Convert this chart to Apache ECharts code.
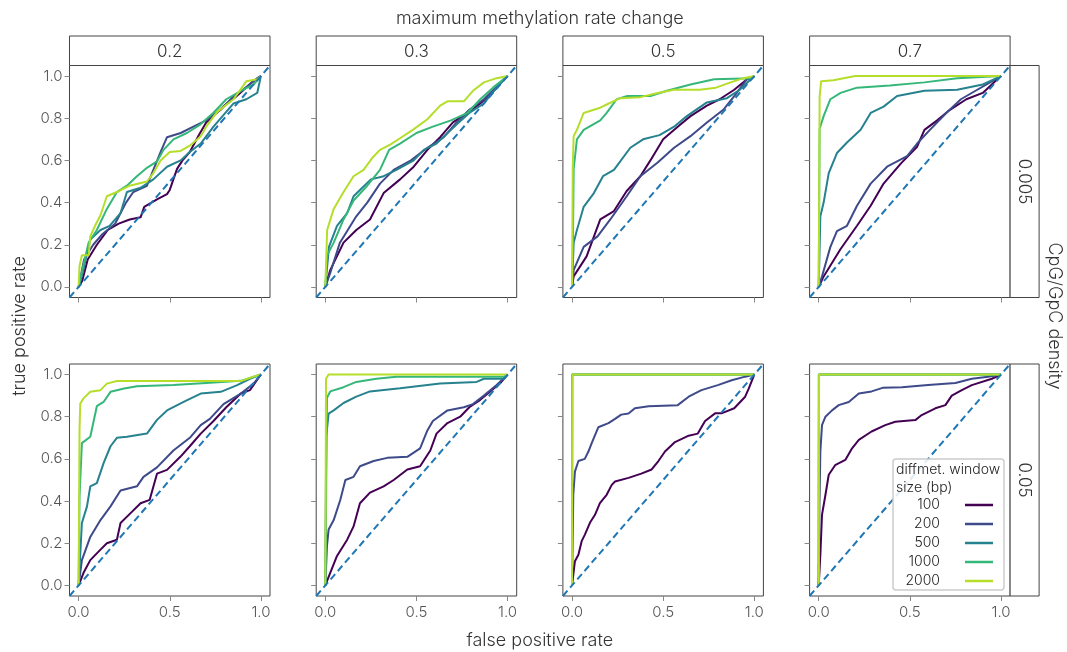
<!DOCTYPE html>
<html>
<head>
<meta charset="utf-8">
<script src="https://cdn.jsdelivr.net/npm/echarts@6/dist/echarts.min.js"></script>
<style>
  html, body { margin: 0; padding: 0; background: #fff; }
  #chart { width: 1067px; height: 652px; }
</style>
</head>
<body>
<div id="chart"></div>
<script>
// Facet levels
const rateChanges = ['0.2', '0.3', '0.5', '0.7'];
const densities = ['0.005', '0.05'];
const windowSizes = ['100', '200', '500', '1000', '2000'];
const windowColors = ['#440154', '#3e4a89', '#26828e', '#35b779', '#b5de2b'];

const xTicks = [0, 0.5, 1];
const yTicks = [0, 0.2, 0.4, 0.6, 0.8, 1.0];
const chanceLine = [[-0.05, -0.05], [1.05, 1.05]];

// ROC curves [false positive rate, true positive rate]
// density 0.005, rate change 0.2
const d005_r02_w100 = [[0,0],[0.02,0.03],[0.05,0.13],[0.1,0.2],[0.16,0.27],[0.22,0.3],[0.28,0.32],[0.34,0.33],[0.36,0.38],[0.43,0.415],[0.485,0.44],[0.5,0.46],[0.54,0.56],[0.57,0.6],[0.61,0.64],[0.66,0.72],[0.7,0.78],[0.75,0.82],[0.8,0.86],[0.86,0.9],[0.9,0.93],[0.95,0.97],[1,1]];
const d005_r02_w200 = [[0,0],[0.03,0.13],[0.08,0.2],[0.13,0.25],[0.2,0.3],[0.26,0.4],[0.3,0.45],[0.375,0.48],[0.45,0.64],[0.485,0.71],[0.56,0.73],[0.63,0.76],[0.7,0.79],[0.78,0.84],[0.85,0.905],[0.905,0.937],[0.98,0.99],[1,1]];
const d005_r02_w500 = [[0,0],[0.02,0.06],[0.064,0.225],[0.12,0.27],[0.17,0.29],[0.23,0.35],[0.265,0.45],[0.34,0.47],[0.41,0.51],[0.485,0.57],[0.56,0.6],[0.61,0.64],[0.67,0.68],[0.74,0.76],[0.81,0.83],[0.85,0.87],[0.92,0.89],[0.98,0.92],[1,1]];
const d005_r02_w1000 = [[0,0],[0.02,0.08],[0.055,0.21],[0.1,0.27],[0.155,0.37],[0.21,0.45],[0.265,0.48],[0.32,0.525],[0.375,0.565],[0.43,0.595],[0.466,0.65],[0.52,0.7],[0.594,0.73],[0.667,0.77],[0.74,0.826],[0.81,0.89],[0.905,0.937],[0.96,0.96],[1,1]];
const d005_r02_w2000 = [[0,0],[0.005,0.1],[0.018,0.15],[0.055,0.15],[0.064,0.24],[0.09,0.29],[0.12,0.34],[0.155,0.43],[0.21,0.45],[0.28,0.48],[0.375,0.5],[0.41,0.54],[0.45,0.6],[0.5,0.64],[0.56,0.645],[0.61,0.67],[0.67,0.715],[0.7,0.76],[0.76,0.83],[0.85,0.89],[0.92,0.975],[0.98,0.985],[1,1]];
// density 0.005, rate change 0.3
const d005_r03_w100 = [[0,0],[0.027,0.08],[0.1,0.21],[0.17,0.27],[0.245,0.32],[0.32,0.445],[0.41,0.51],[0.485,0.57],[0.56,0.65],[0.63,0.71],[0.7,0.78],[0.78,0.825],[0.85,0.87],[0.92,0.925],[0.98,0.985],[1,1]];
const d005_r03_w200 = [[0,0],[0.027,0.066],[0.08,0.21],[0.17,0.335],[0.23,0.4],[0.3,0.49],[0.375,0.555],[0.47,0.6],[0.56,0.66],[0.65,0.71],[0.72,0.78],[0.79,0.84],[0.87,0.89],[0.94,0.95],[1,1]];
const d005_r03_w500 = [[0,0],[0.02,0.19],[0.064,0.29],[0.12,0.35],[0.155,0.43],[0.19,0.46],[0.25,0.51],[0.32,0.525],[0.39,0.555],[0.485,0.6],[0.54,0.65],[0.61,0.68],[0.72,0.77],[0.79,0.825],[0.87,0.87],[0.94,0.945],[1,1]];
const d005_r03_w1000 = [[0,0],[0.01,0.15],[0.046,0.21],[0.1,0.32],[0.155,0.41],[0.23,0.48],[0.3,0.555],[0.35,0.65],[0.41,0.68],[0.5,0.73],[0.59,0.76],[0.69,0.79],[0.78,0.825],[0.85,0.89],[0.92,0.945],[1,1]];
const d005_r03_w2000 = [[0,0],[0.01,0.27],[0.046,0.37],[0.1,0.45],[0.155,0.525],[0.21,0.555],[0.256,0.61],[0.3,0.65],[0.356,0.675],[0.41,0.705],[0.48,0.745],[0.56,0.795],[0.63,0.86],[0.67,0.88],[0.76,0.88],[0.81,0.93],[0.87,0.97],[0.94,0.99],[1,1]];
// density 0.005, rate change 0.5
const d005_r05_w100 = [[0,0],[0.009,0.05],[0.08,0.145],[0.155,0.32],[0.23,0.36],[0.3,0.455],[0.375,0.525],[0.43,0.6],[0.5,0.7],[0.58,0.76],[0.65,0.81],[0.74,0.86],[0.81,0.89],[0.89,0.935],[0.96,0.985],[1,1]];
const d005_r05_w200 = [[0,0],[0.009,0.08],[0.064,0.19],[0.14,0.24],[0.21,0.32],[0.3,0.43],[0.375,0.525],[0.47,0.59],[0.56,0.66],[0.65,0.715],[0.74,0.78],[0.83,0.84],[0.89,0.905],[0.96,0.985],[1,1]];
const d005_r05_w500 = [[0,0],[0.009,0.21],[0.027,0.27],[0.064,0.38],[0.12,0.445],[0.17,0.525],[0.23,0.555],[0.32,0.66],[0.39,0.7],[0.48,0.72],[0.56,0.76],[0.63,0.81],[0.74,0.875],[0.85,0.895],[0.92,0.935],[1,1]];
const d005_r05_w1000 = [[0,0],[0.005,0.21],[0.009,0.56],[0.027,0.7],[0.064,0.745],[0.155,0.79],[0.19,0.825],[0.245,0.89],[0.3,0.905],[0.43,0.905],[0.52,0.93],[0.65,0.96],[0.78,0.985],[0.99,0.99],[1,1]];
const d005_r05_w2000 = [[0,0],[0.004,0.56],[0.009,0.715],[0.027,0.745],[0.064,0.825],[0.155,0.85],[0.19,0.865],[0.265,0.895],[0.375,0.9],[0.47,0.92],[0.56,0.935],[0.7,0.935],[0.79,0.945],[0.87,0.97],[0.94,0.99],[1,1]];
// density 0.005, rate change 0.7
const d005_r07_w100 = [[0,0],[0.027,0.05],[0.12,0.18],[0.21,0.29],[0.285,0.385],[0.356,0.49],[0.45,0.585],[0.54,0.665],[0.58,0.745],[0.65,0.79],[0.72,0.84],[0.81,0.89],[0.9,0.92],[0.98,0.985],[1,1]];
const d005_r07_w200 = [[0,0],[0.018,0.05],[0.064,0.19],[0.1,0.265],[0.155,0.29],[0.21,0.385],[0.285,0.49],[0.375,0.57],[0.485,0.62],[0.54,0.68],[0.61,0.745],[0.7,0.825],[0.78,0.89],[0.87,0.935],[0.94,0.97],[1,1]];
const d005_r07_w500 = [[0,0],[0.009,0.335],[0.027,0.4],[0.055,0.54],[0.1,0.635],[0.155,0.685],[0.23,0.745],[0.285,0.825],[0.356,0.855],[0.43,0.905],[0.58,0.93],[0.76,0.935],[0.9,0.96],[1,1]];
const d005_r07_w1000 = [[0,0],[0.005,0.75],[0.027,0.81],[0.064,0.89],[0.12,0.92],[0.21,0.945],[0.39,0.955],[0.58,0.97],[0.76,0.99],[1,1]];
const d005_r07_w2000 = [[0,0],[0.005,0.9],[0.013,0.975],[0.08,0.98],[0.2,1],[1,1]];
// density 0.05, rate change 0.2
const d05_r02_w100 = [[0,0],[0.027,0.06],[0.064,0.12],[0.12,0.17],[0.155,0.2],[0.21,0.217],[0.23,0.296],[0.285,0.343],[0.34,0.39],[0.39,0.406],[0.43,0.53],[0.485,0.548],[0.558,0.61],[0.61,0.66],[0.67,0.72],[0.74,0.78],[0.81,0.845],[0.89,0.91],[0.94,0.926],[1,1]];
const d05_r02_w200 = [[0,0],[0.018,0.12],[0.064,0.23],[0.12,0.31],[0.175,0.375],[0.23,0.45],[0.32,0.47],[0.356,0.515],[0.43,0.56],[0.52,0.64],[0.61,0.7],[0.67,0.76],[0.72,0.79],[0.795,0.86],[0.89,0.91],[0.96,0.957],[1,1]];
const d05_r02_w500 = [[0,0],[0.018,0.296],[0.046,0.375],[0.064,0.47],[0.1,0.485],[0.137,0.58],[0.175,0.66],[0.21,0.7],[0.265,0.705],[0.375,0.72],[0.43,0.785],[0.485,0.83],[0.576,0.87],[0.67,0.91],[0.78,0.918],[0.87,0.95],[0.94,0.98],[1,1]];
const d05_r02_w1000 = [[0,0],[0.005,0.42],[0.018,0.675],[0.064,0.705],[0.1,0.85],[0.137,0.87],[0.175,0.918],[0.25,0.934],[0.32,0.945],[0.52,0.95],[0.7,0.96],[0.89,0.97],[1,1]];
const d05_r02_w2000 = [[0,0],[0.005,0.737],[0.009,0.863],[0.027,0.887],[0.064,0.918],[0.12,0.926],[0.155,0.957],[0.21,0.969],[0.34,0.969],[0.89,0.969],[0.96,0.99],[1,1]];
// density 0.05, rate change 0.3
const d05_r03_w100 = [[0,0],[0.027,0.06],[0.064,0.14],[0.12,0.217],[0.155,0.28],[0.19,0.39],[0.245,0.44],[0.32,0.47],[0.375,0.5],[0.45,0.55],[0.52,0.565],[0.576,0.64],[0.61,0.72],[0.67,0.77],[0.74,0.8],[0.79,0.845],[0.85,0.88],[0.905,0.92],[0.96,0.96],[1,1]];
const d05_r03_w200 = [[0,0],[0.009,0.186],[0.018,0.265],[0.046,0.31],[0.082,0.405],[0.11,0.5],[0.155,0.515],[0.19,0.565],[0.265,0.59],[0.34,0.605],[0.45,0.61],[0.52,0.65],[0.56,0.735],[0.59,0.78],[0.67,0.83],[0.76,0.845],[0.81,0.86],[0.87,0.9],[0.94,0.95],[1,1]];
const d05_r03_w500 = [[0,0],[0.005,0.705],[0.018,0.815],[0.046,0.83],[0.1,0.865],[0.17,0.895],[0.245,0.92],[0.41,0.935],[0.63,0.957],[0.83,0.965],[0.87,0.98],[0.98,0.98],[1,1]];
const d05_r03_w1000 = [[0,0],[0.009,0.89],[0.027,0.92],[0.1,0.94],[0.17,0.965],[0.28,0.98],[0.39,0.99],[0.98,0.99],[1,1]];
const d05_r03_w2000 = [[0,0],[0.004,0.98],[0.018,1],[1,1]];
// density 0.05, rate change 0.5
const d05_r05_w100 = [[0,0],[0.016,0.115],[0.035,0.146],[0.053,0.21],[0.07,0.24],[0.1,0.3],[0.126,0.335],[0.153,0.39],[0.19,0.43],[0.218,0.477],[0.236,0.493],[0.31,0.51],[0.38,0.53],[0.437,0.55],[0.474,0.59],[0.51,0.635],[0.565,0.68],[0.64,0.71],[0.69,0.72],[0.73,0.78],[0.785,0.816],[0.82,0.816],[0.89,0.84],[0.95,0.895],[0.97,0.934],[1,1]];
const d05_r05_w200 = [[0,0],[0.007,0.43],[0.016,0.54],[0.035,0.59],[0.07,0.6],[0.09,0.635],[0.108,0.675],[0.144,0.75],[0.2,0.77],[0.236,0.79],[0.27,0.81],[0.31,0.815],[0.345,0.84],[0.42,0.85],[0.58,0.855],[0.64,0.895],[0.71,0.926],[0.8,0.95],[0.876,0.973],[0.95,0.99],[1,1]];
const d05_r05_w500 = [[0,0],[0.001,1],[1,1]];
const d05_r05_w1000 = [[0,0],[0.001,1],[1,1]];
const d05_r05_w2000 = [[0,0],[0.002,1],[1,1]];
// density 0.05, rate change 0.7
const d05_r07_w100 = [[0,0],[0.009,0.146],[0.018,0.335],[0.037,0.43],[0.055,0.525],[0.09,0.57],[0.146,0.595],[0.183,0.65],[0.22,0.69],[0.29,0.73],[0.365,0.76],[0.42,0.776],[0.53,0.784],[0.565,0.808],[0.64,0.84],[0.695,0.855],[0.73,0.9],[0.785,0.926],[0.84,0.95],[0.95,0.98],[1,1]];
const d05_r07_w200 = [[0,0],[0.004,0.38],[0.009,0.635],[0.018,0.76],[0.037,0.8],[0.073,0.83],[0.11,0.855],[0.165,0.87],[0.22,0.91],[0.29,0.92],[0.35,0.937],[0.457,0.94],[0.6,0.95],[0.75,0.96],[0.84,0.98],[0.93,0.99],[1,1]];
const d05_r07_w500 = [[0,0],[0.001,1],[1,1]];
const d05_r07_w1000 = [[0,0],[0.001,1],[1,1]];
const d05_r07_w2000 = [[0,0],[0.002,1],[1,1]];

// curves[row][col][window]
const curves = [
  [
    [d005_r02_w100, d005_r02_w200, d005_r02_w500, d005_r02_w1000, d005_r02_w2000],
    [d005_r03_w100, d005_r03_w200, d005_r03_w500, d005_r03_w1000, d005_r03_w2000],
    [d005_r05_w100, d005_r05_w200, d005_r05_w500, d005_r05_w1000, d005_r05_w2000],
    [d005_r07_w100, d005_r07_w200, d005_r07_w500, d005_r07_w1000, d005_r07_w2000]
  ],
  [
    [d05_r02_w100, d05_r02_w200, d05_r02_w500, d05_r02_w1000, d05_r02_w2000],
    [d05_r03_w100, d05_r03_w200, d05_r03_w500, d05_r03_w1000, d05_r03_w2000],
    [d05_r05_w100, d05_r05_w200, d05_r05_w500, d05_r05_w1000, d05_r05_w2000],
    [d05_r07_w100, d05_r07_w200, d05_r07_w500, d05_r07_w1000, d05_r07_w2000]
  ]
];

// Panel layout (px)
const FONT = 'Inter, "Liberation Sans", sans-serif';
const FW = 300;
const PANEL_LEFT = 69.5, COL_STEP = 246.7, PANEL_W = 200.5, PANEL_H = 232;
const ROW_TOPS = [65.5, 364];
const STRIP_TOP = 36, STRIP_RIGHT_W = 29;
const FRAME = '#444';
const TICK = '#888';

const grids = [], xAxes = [], yAxes = [], series = [], graphics = [];

densities.forEach((dens, r) => {
  rateChanges.forEach((rate, c) => {
    const gi = r * rateChanges.length + c;
    const left = PANEL_LEFT + c * COL_STEP;
    grids.push({
      left: left, top: ROW_TOPS[r], width: PANEL_W, height: PANEL_H,
      show: true, borderColor: FRAME, borderWidth: 1, backgroundColor: '#fff'
    });
    xAxes.push({
      type: 'value', gridIndex: gi, min: -0.05, max: 1.05, position: 'bottom',
      splitLine: { show: false }, axisLine: { show: false, onZero: false },
      axisTick: { show: true, length: 5, lineStyle: { color: TICK }, customValues: xTicks },
      axisLabel: {
        show: r === densities.length - 1, customValues: xTicks, margin: 9,
        formatter: v => v.toFixed(1), color: '#555', fontSize: 15, fontWeight: FW, fontFamily: FONT
      }
    });
    yAxes.push({
      type: 'value', gridIndex: gi, min: -0.05, max: 1.05, position: 'left',
      splitLine: { show: false }, axisLine: { show: false, onZero: false },
      axisTick: { show: true, length: 5, lineStyle: { color: TICK }, customValues: yTicks },
      axisLabel: {
        show: c === 0, customValues: yTicks, margin: 7,
        formatter: v => v.toFixed(1), color: '#555', fontSize: 15, fontWeight: FW, fontFamily: FONT
      }
    });
    windowSizes.forEach((w, k) => {
      series.push({
        name: w, type: 'line', xAxisIndex: gi, yAxisIndex: gi,
        data: curves[r][c][k], symbol: 'none', showSymbol: false,
        lineStyle: { width: 2, color: windowColors[k] },
        itemStyle: { color: windowColors[k] },
        animation: false, silent: true, z: 2 + k * 0.01
      });
    });
    series.push({
      name: 'chance', type: 'line', xAxisIndex: gi, yAxisIndex: gi,
      data: chanceLine, symbol: 'none', showSymbol: false,
      lineStyle: { width: 2, color: '#1f77b4', type: [7, 4] },
      animation: false, silent: true, z: 3
    });

    // column strip on top row
    if (r === 0) {
      graphics.push({
        type: 'rect', shape: { x: left, y: STRIP_TOP, width: PANEL_W, height: ROW_TOPS[0] - STRIP_TOP },
        style: { fill: '#fff', stroke: FRAME, lineWidth: 1 }
      });
      graphics.push({
        type: 'text', x: left + PANEL_W / 2, y: (STRIP_TOP + ROW_TOPS[0]) / 2 + 1,
        style: { text: rate, fontSize: 17, fontWeight: FW, fontFamily: FONT, fill: '#333', align: 'center', verticalAlign: 'middle' }
      });
    }
    // row strip on last column
    if (c === rateChanges.length - 1) {
      const sx = left + PANEL_W;
      graphics.push({
        type: 'rect', shape: { x: sx, y: ROW_TOPS[r], width: STRIP_RIGHT_W, height: PANEL_H },
        style: { fill: '#fff', stroke: FRAME, lineWidth: 1 }
      });
      graphics.push({
        type: 'text', x: sx + STRIP_RIGHT_W / 2, y: ROW_TOPS[r] + PANEL_H / 2, rotation: -Math.PI / 2,
        style: { text: dens, fontSize: 17, fontWeight: FW, fontFamily: FONT, fill: '#333', align: 'center', verticalAlign: 'middle' }
      });
    }
  });
});

const plotsLeft = PANEL_LEFT;
const plotsRight = PANEL_LEFT + 3 * COL_STEP + PANEL_W;
// figure-level labels
graphics.push({
  type: 'text', x: (plotsLeft + plotsRight) / 2, y: 19,
  style: { text: 'maximum methylation rate change', fontSize: 18, fontWeight: FW, fontFamily: FONT, fill: '#333', align: 'center', verticalAlign: 'middle' }
});
graphics.push({
  type: 'text', x: (plotsLeft + plotsRight) / 2, y: 641,
  style: { text: 'false positive rate', fontSize: 18, fontWeight: FW, fontFamily: FONT, fill: '#333', align: 'center', verticalAlign: 'middle' }
});
graphics.push({
  type: 'text', x: 20, y: 326, rotation: Math.PI / 2,
  style: { text: 'true positive rate', fontSize: 18, fontWeight: FW, fontFamily: FONT, fill: '#333', align: 'center', verticalAlign: 'middle' }
});
graphics.push({
  type: 'text', x: 1054, y: 316, rotation: -Math.PI / 2,
  style: { text: 'CpG/GpC density', fontSize: 18, fontWeight: FW, fontFamily: FONT, fill: '#333', align: 'center', verticalAlign: 'middle' }
});
// legend frame and title
graphics.push({
  type: 'rect', z: 10, shape: { x: 893, y: 459, width: 111, height: 131, r: 3 },
  style: { fill: 'rgba(255,255,255,0.85)', stroke: '#ccc', lineWidth: 1.5 }
});
graphics.push({
  type: 'text', z: 11, x: 896, y: 470,
  style: { text: 'diffmet. window', fontSize: 14, fontWeight: FW, fontFamily: FONT, fill: '#222', align: 'left', verticalAlign: 'middle' }
});
graphics.push({
  type: 'text', z: 11, x: 896, y: 488,
  style: { text: 'size (bp)', fontSize: 14, fontWeight: FW, fontFamily: FONT, fill: '#222', align: 'left', verticalAlign: 'middle' }
});

const chart = echarts.init(document.getElementById('chart'), null, { renderer: 'canvas' });
chart.setOption({
  animation: false,
  backgroundColor: '#fff',
  grid: grids,
  xAxis: xAxes,
  yAxis: yAxes,
  series: series,
  legend: {
    data: windowSizes, orient: 'vertical', align: 'right',
    right: 1067 - 993, top: 498, padding: 0, z: 20,
    icon: 'rect', itemWidth: 28, itemHeight: 2.5, itemGap: 5,
    selectedMode: false,
    textStyle: { fontSize: 14, fontWeight: FW, fontFamily: FONT, color: '#222', lineHeight: 14, padding: [0, 20, 0, 0] }
  },
  graphic: { elements: graphics }
});
</script>
</body>
</html>
